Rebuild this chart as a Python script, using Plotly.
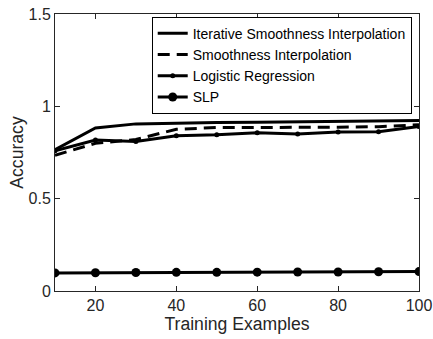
import plotly.graph_objects as go

x = [10, 20, 30, 40, 50, 60, 70, 80, 90, 100]
iterative = [0.765, 0.883, 0.905, 0.91, 0.912, 0.914, 0.916, 0.918, 0.92, 0.923]
smooth = [0.735, 0.80, 0.82, 0.876, 0.885, 0.885, 0.885, 0.887, 0.89, 0.90]
logistic = [0.759, 0.818, 0.81, 0.841, 0.846, 0.857, 0.85, 0.861, 0.862, 0.891]
slp = [0.098, 0.099, 0.1, 0.101, 0.101, 0.102, 0.103, 0.103, 0.104, 0.105]

xticks = [20, 40, 60, 80, 100]
yticks = [0, 0.5, 1, 1.5]
yticklabels = ["0", "0.5", "1", "1.5"]

fig = go.Figure()
fig.add_trace(go.Scatter(x=x, y=iterative, mode="lines", name="Iterative Smoothness Interpolation",
                         line=dict(color="black", width=3)))
fig.add_trace(go.Scatter(x=x, y=smooth, mode="lines", name="Smoothness Interpolation",
                         line=dict(color="black", width=3, dash="12px,7px")))
fig.add_trace(go.Scatter(x=x, y=logistic, mode="lines+markers", name="Logistic Regression",
                         line=dict(color="black", width=3), marker=dict(color="black", size=5)))
fig.add_trace(go.Scatter(x=x, y=slp, mode="lines+markers", name="SLP",
                         line=dict(color="black", width=3), marker=dict(color="black", size=9)))

axis_common = dict(showgrid=False, zeroline=False, showline=True, linecolor="#262626", linewidth=1,
                   mirror="ticks", ticks="inside", ticklen=5, tickcolor="#262626",
                   tickfont=dict(size=16, color="#262626"), automargin=False)
fig.update_xaxes(range=[10, 100], tickvals=xticks,
                 title=dict(text="Training Examples", font=dict(size=17.6, color="#262626"), standoff=3),
                 **axis_common)
fig.update_yaxes(range=[0, 1.5], tickvals=yticks, ticktext=yticklabels,
                 title=dict(text="Accuracy", font=dict(size=17.6, color="#262626"), standoff=0),
                 **axis_common)

fig.update_layout(
    width=433, height=339,
    margin=dict(l=55, r=14, t=14, b=48),
    plot_bgcolor="white", paper_bgcolor="white",
    font=dict(family="Liberation Sans, Arial, sans-serif", color="#262626"),
    showlegend=True,
    legend=dict(x=0.98, y=0.99, xanchor="right", yanchor="top",
                bgcolor="white", bordercolor="black", borderwidth=1,
                font=dict(size=14, color="black"), tracegroupgap=0,
                itemwidth=30),
)

fig.write_html("out.html")
